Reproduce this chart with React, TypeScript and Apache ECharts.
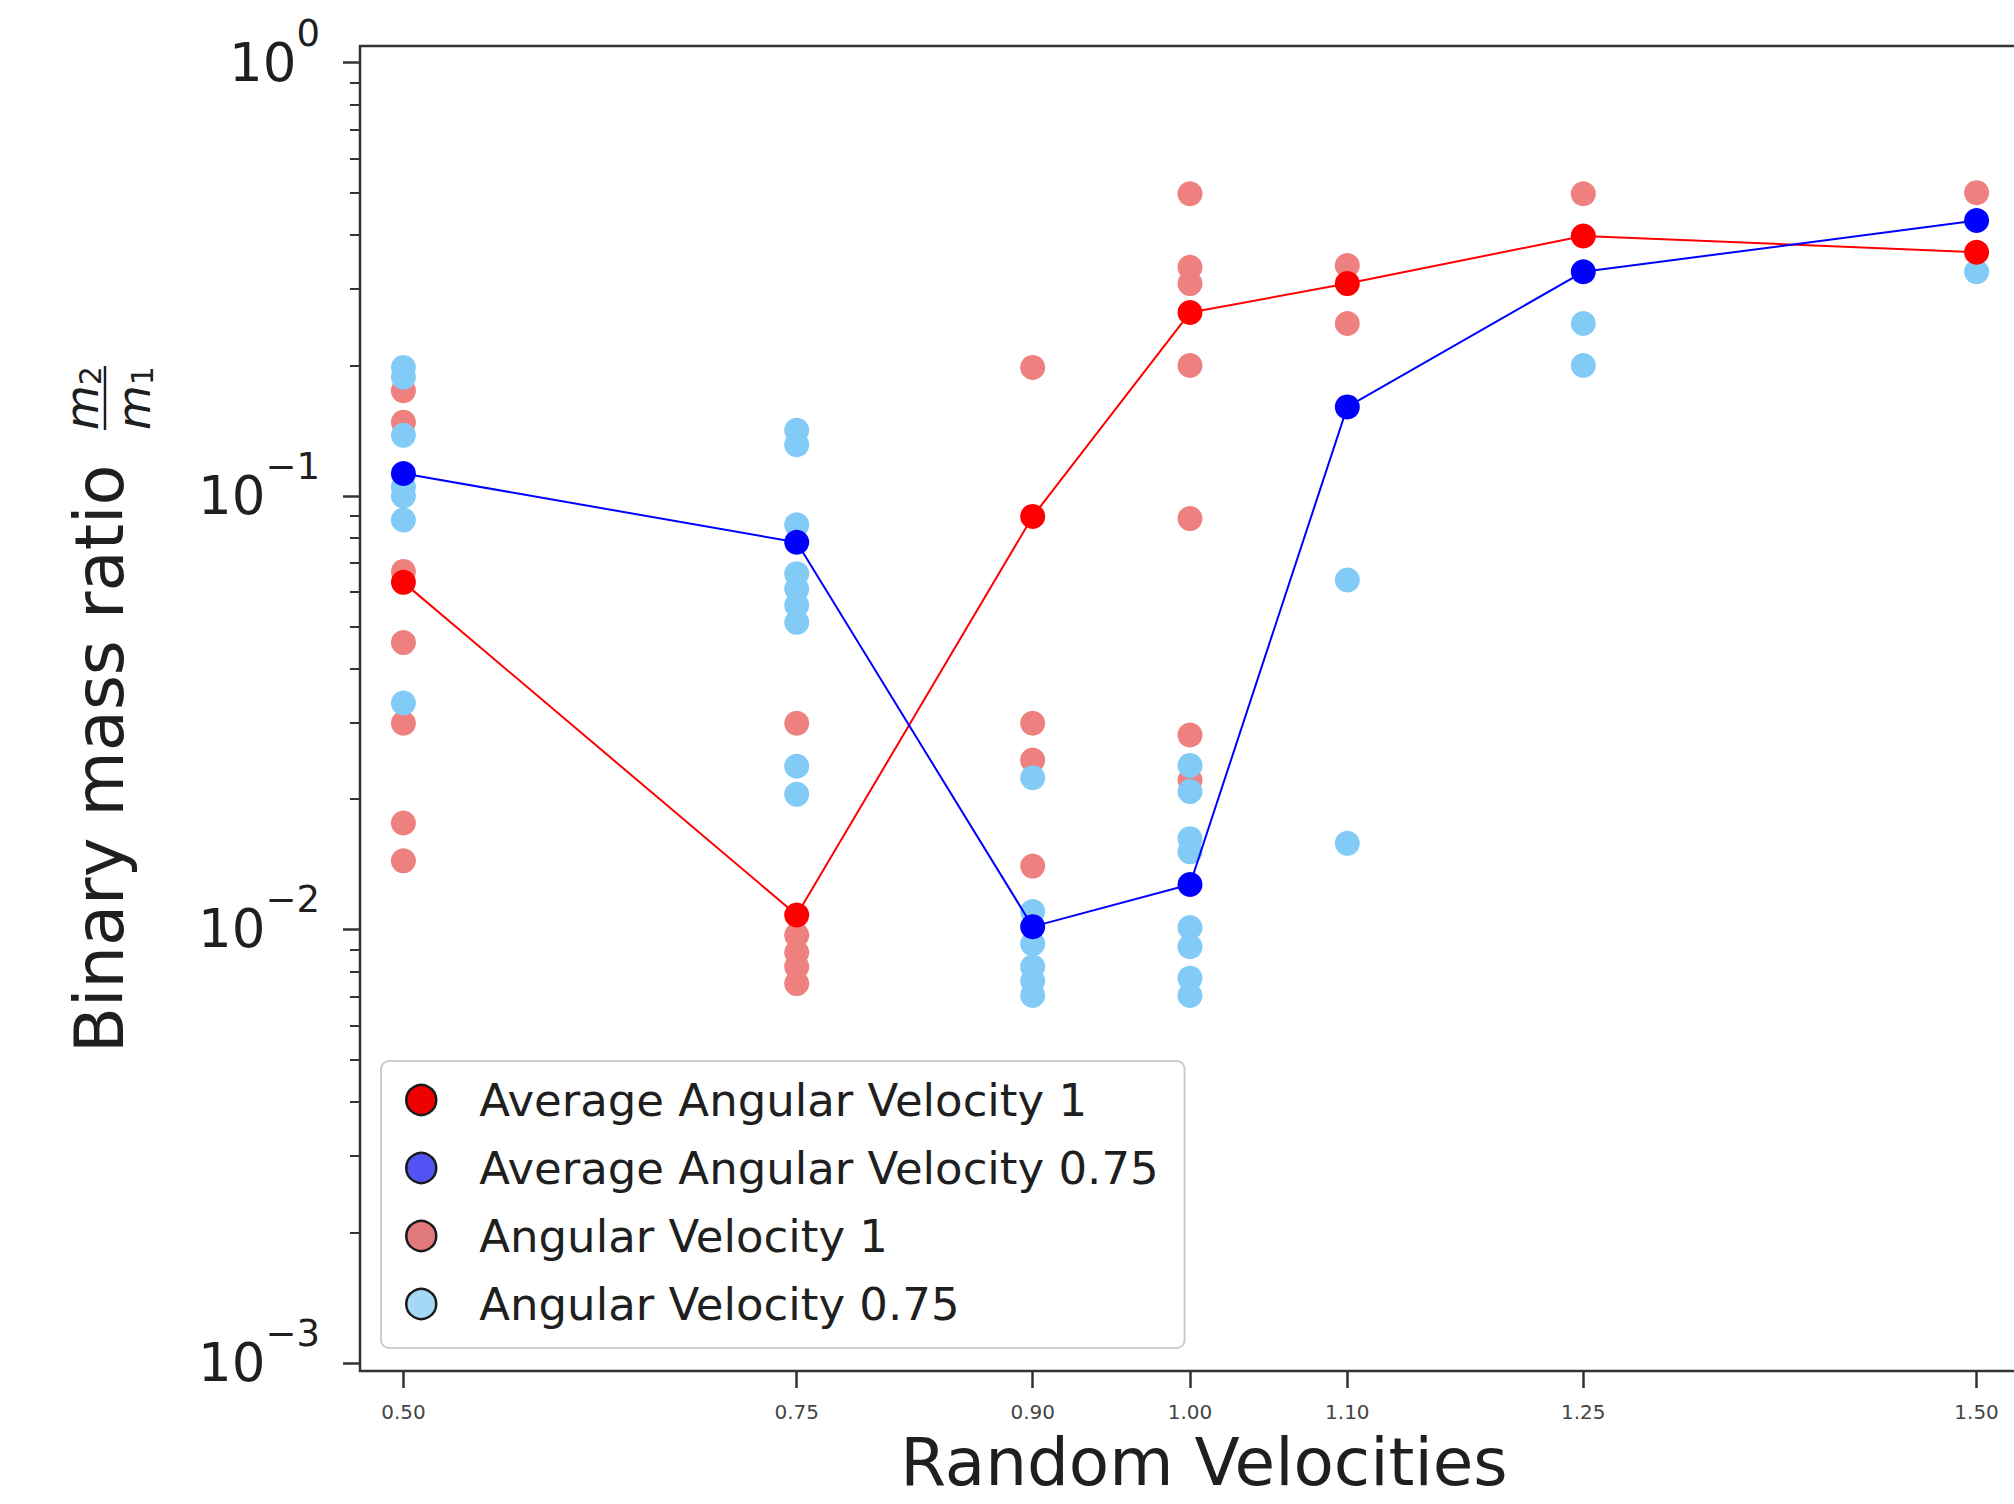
import React, { useEffect, useRef } from 'react';
import * as echarts from 'echarts';

// ---------- data ----------
const velocities = [0.5, 0.75, 0.9, 1.0, 1.1, 1.25, 1.5];
const xTickLabels = ['0.50', '0.75', '0.90', '1.00', '1.10', '1.25', '1.50'];

const avgAngularVelocity1 = [0.0632, 0.0108, 0.0897, 0.265, 0.309, 0.398, 0.365];
const avgAngularVelocity075 = [0.1127, 0.0782, 0.01015, 0.0127, 0.1605, 0.329, 0.432];

// individual runs, one list per velocity (same order as `velocities`)
const angularVelocity1 = [
  [0.175, 0.148, 0.067, 0.0459, 0.0299, 0.0176, 0.0144],
  [0.0299, 0.0097, 0.00885, 0.0082, 0.0075],
  [0.198, 0.0299, 0.0246, 0.014],
  [0.498, 0.337, 0.309, 0.2, 0.0887, 0.0281, 0.0221],
  [0.34, 0.25],
  [0.498],
  [0.501],
];
const angularVelocity075 = [
  [0.198, 0.188, 0.138, 0.105, 0.1, 0.088, 0.0333],
  [0.1417, 0.1313, 0.0858, 0.0662, 0.061, 0.056, 0.0511, 0.0238, 0.0205],
  [0.0224, 0.011, 0.00927, 0.0082, 0.0076, 0.00704],
  [0.0239, 0.0208, 0.0162, 0.0151, 0.0101, 0.00912, 0.00772, 0.00704],
  [0.064, 0.0158],
  [0.25, 0.2],
  [0.329],
];

const yMajorTicks = [0.001, 0.01, 0.1, 1];
const yMinorTicks: number[] = [];
for (let e = -3; e <= -1; e++) {
  for (let m = 2; m <= 9; m++) yMinorTicks.push(parseFloat((m * Math.pow(10, e)).toPrecision(6)));
}

const names = {
  avg1: 'Average Angular Velocity 1',
  avg075: 'Average Angular Velocity 0.75',
  av1: 'Angular Velocity 1',
  av075: 'Angular Velocity 0.75',
};

const FONT = 'DejaVu Sans';
const INK = '#1f1f1f';
const FRAME = '#333333';

const toPairs = (ys: number[]) => velocities.map((x, i) => [x, ys[i]]);
const flatPairs = (groups: number[][]) => {
  const out: number[][] = [];
  groups.forEach((g, i) => g.forEach((v) => out.push([velocities[i], v])));
  return out;
};

const yAxisBase = {
  type: 'log',
  logBase: 10,
  min: 0.000958,
  max: 1.0917,
  gridIndex: 0,
  position: 'left',
  axisLine: { show: false },
  splitLine: { show: false },
  minorTick: { show: false },
};

export default function App() {
  const ref = useRef<HTMLDivElement>(null);

  useEffect(() => {
    if (!ref.current) return;
    const chart = echarts.init(ref.current, null, { renderer: 'svg' });

    const supText = (v: number) => {
      const e = Math.round(Math.log10(v));
      return e === 0 ? '0' : '\u2212' + String(-e);
    };

    const fracRich = {
      i: { fontSize: 46, fontFamily: FONT, fontStyle: 'italic', fill: INK, lineHeight: 46, verticalAlign: 'top' },
      s: { fontSize: 30, fontFamily: FONT, fill: INK, lineHeight: 30, verticalAlign: 'bottom' },
    };

    const option: any = {
      animation: false,
      backgroundColor: '#ffffff',
      grid: {
        left: 360,
        top: 46,
        width: 1660,
        height: 1325,
        show: true,
        borderColor: FRAME,
        borderWidth: 2.5,
        backgroundColor: 'transparent',
        containLabel: false,
        outerBoundsMode: 'none',
      },
      xAxis: {
        type: 'value',
        min: 0.4724,
        max: 1.5276,
        axisLine: { show: false },
        splitLine: { show: false },
        axisTick: {
          show: true,
          customValues: velocities,
          length: 17,
          lineStyle: { color: FRAME, width: 2.5 },
        },
        axisLabel: {
          customValues: velocities,
          formatter: (v: number) => {
            const i = velocities.findIndex((x) => Math.abs(x - v) < 1e-9);
            return i >= 0 ? xTickLabels[i] : v.toFixed(2);
          },
          fontSize: 20,
          fontFamily: FONT,
          color: '#444444',
          margin: 31,
        },
        name: 'Random Velocities',
        nameLocation: 'middle',
        nameGap: 63,
        nameTextStyle: {
          fontSize: 66,
          lineHeight: 56,
          fontFamily: FONT,
          color: INK,
          padding: [0, 0, 0, 28],
        },
      },
      yAxis: [
        {
          ...yAxisBase,
          axisTick: {
            show: true,
            customValues: yMajorTicks,
            length: 17,
            lineStyle: { color: FRAME, width: 2.5 },
          },
          axisLabel: {
            customValues: yMajorTicks,
            margin: 40,
            padding: [0, 0, 22, 0],
            formatter: (v: number) => `{b|10}{s|${supText(v)}}`,
            rich: {
              b: { fontSize: 53, fontFamily: FONT, color: INK, lineHeight: 74, verticalAlign: 'bottom' },
              s: { fontSize: 37, fontFamily: FONT, color: INK, lineHeight: 37, verticalAlign: 'top' },
            },
          },
        },
        {
          ...yAxisBase,
          axisTick: {
            show: true,
            customValues: yMinorTicks,
            length: 10,
            lineStyle: { color: FRAME, width: 2 },
          },
          axisLabel: { show: false },
        },
      ],
      legend: {
        orient: 'vertical',
        left: 381,
        top: 1061,
        padding: [14, 26, 19, 24],
        itemWidth: 30,
        itemHeight: 30,
        itemGap: 18,
        selectedMode: false,
        backgroundColor: 'rgba(255,255,255,0.85)',
        borderColor: '#cccccc',
        borderWidth: 2,
        borderRadius: 8,
        textStyle: {
          fontSize: 45,
          fontFamily: FONT,
          color: INK,
          lineHeight: 50,
          padding: [0, 0, 0, 38],
        },
        data: [
          { name: names.avg1, icon: 'circle', itemStyle: { color: '#ee0000', borderColor: '#1a1a1a', borderWidth: 2.5, opacity: 1 } },
          { name: names.avg075, icon: 'circle', itemStyle: { color: '#5353f5', borderColor: '#1a1a1a', borderWidth: 2.5, opacity: 1 } },
          { name: names.av1, icon: 'circle', itemStyle: { color: '#e07a7a', borderColor: '#1a1a1a', borderWidth: 2.5, opacity: 1 } },
          { name: names.av075, icon: 'circle', itemStyle: { color: '#a3d9f5', borderColor: '#1a1a1a', borderWidth: 2.5, opacity: 1 } },
        ],
      },
      graphic: [
        {
          type: 'group',
          x: 105,
          y: 712,
          rotation: Math.PI / 2,
          children: [
            {
              type: 'text',
              x: -341,
              y: -5,
              style: {
                text: 'Binary mass ratio',
                fontSize: 67,
                fontFamily: FONT,
                fill: INK,
                align: 'left',
                verticalAlign: 'middle',
              },
            },
            {
              type: 'text',
              x: 314,
              y: -23,
              style: { text: '{i|m}{s|2}', align: 'center', verticalAlign: 'middle', rich: fracRich },
            },
            {
              type: 'line',
              shape: { x1: 282, y1: 0, x2: 346, y2: 0 },
              style: { stroke: INK, lineWidth: 2.5 },
            },
            {
              type: 'text',
              x: 314,
              y: 29,
              style: { text: '{i|m}{s|1}', align: 'center', verticalAlign: 'middle', rich: fracRich },
            },
          ],
        },
      ],
      series: [
        {
          name: names.av1,
          type: 'scatter',
          data: flatPairs(angularVelocity1),
          symbol: 'circle',
          symbolSize: 25,
          itemStyle: { color: '#ee8080', opacity: 1 },
          z: 2,
        },
        {
          name: names.av075,
          type: 'scatter',
          data: flatPairs(angularVelocity075),
          symbol: 'circle',
          symbolSize: 25,
          itemStyle: { color: '#82cbf7', opacity: 1 },
          z: 2,
        },
        {
          name: 'avg1-line',
          type: 'line',
          data: toPairs(avgAngularVelocity1),
          symbol: 'none',
          lineStyle: { color: '#ff0000', width: 2 },
          z: 3,
        },
        {
          name: 'avg075-line',
          type: 'line',
          data: toPairs(avgAngularVelocity075),
          symbol: 'none',
          lineStyle: { color: '#0000ff', width: 2 },
          z: 3,
        },
        {
          name: names.avg1,
          type: 'scatter',
          data: toPairs(avgAngularVelocity1),
          symbol: 'circle',
          symbolSize: 25,
          itemStyle: { color: '#ff0000', opacity: 1 },
          z: 4,
        },
        {
          name: names.avg075,
          type: 'scatter',
          data: toPairs(avgAngularVelocity075),
          symbol: 'circle',
          symbolSize: 25,
          itemStyle: { color: '#0000ff', opacity: 1 },
          z: 4,
        },
      ],
    };

    chart.setOption(option);
    return () => chart.dispose();
  }, []);

  return (
    <div
      ref={ref}
      style={{ position: 'fixed', left: 0, top: 0, width: 2014, height: 1504, background: '#ffffff' }}
    />
  );
}
